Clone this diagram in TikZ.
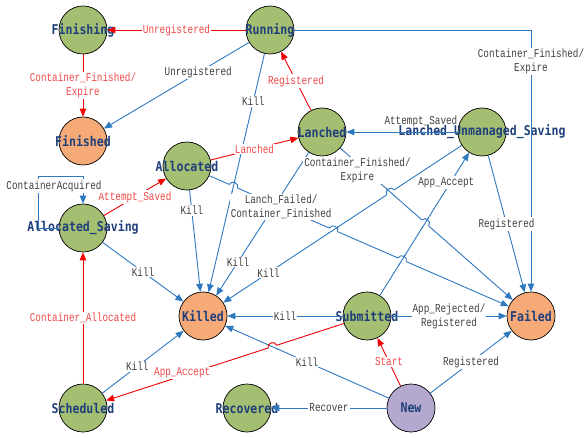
\documentclass[tikz,border=0pt]{standalone}
\usepackage{fontspec}
\newfontfamily\stfont{DejaVu Sans Mono}[FakeStretch=0.86]
\newfontfamily\lbfont{Liberation Mono}[FakeStretch=0.78]
\usetikzlibrary{arrows.meta,calc}
\definecolor{stgreen}{HTML}{A4BE72}
\definecolor{storange}{HTML}{F6AA78}
\definecolor{stpurple}{HTML}{B5A8CF}
\definecolor{stname}{HTML}{1F3F7A}
\definecolor{eblue}{HTML}{2E78C0}
\definecolor{ered}{HTML}{F00000}
\definecolor{lgray}{HTML}{404040}
\definecolor{lred}{HTML}{F04848}
\newcommand\jumpover[6]{%
  \fill[white] (#1) circle (4.6bp);
  \draw[draw=eblue, line width=0.9bp] ($(#1)!6bp!(#5)$) -- ($(#1)!6bp!(#6)$);
  \draw[draw=#4, line width=0.9bp] ($(#1)!4.5bp!(#2)$) to[out=90,in=90,relative,looseness=1.5] ($(#1)!4.5bp!(#3)$);
}
\begin{document}
\begin{tikzpicture}[x=1bp,y=-1bp,
  stnode/.style={circle, draw=black, line width=0.7bp, minimum size=48bp, inner sep=0pt, fill=stgreen, label={[stlabel]center:#1}},
  stlabel/.style={font=\stfont\bfseries\fontsize{13.5}{15}\selectfont, text=stname},
  be/.style={draw=eblue, line width=0.9bp, -{Triangle[length=8bp,width=6.5bp]}},
  re/.style={draw=ered, line width=0.9bp, -{Triangle[length=8bp,width=6.5bp]}},
  lb/.style={fill=white, inner sep=1bp, font=\lbfont\fontsize{12}{14}\selectfont, text=lgray, align=center},
  rl/.style={lb, text=lred}]
\useasboundingbox (0,0) rectangle (588,438);

\node[stnode=Finishing] (fin) at (83,30) {};
\node[stnode=Running] (run) at (270,30) {};
\node[stnode=Finished, fill=storange] (fid) at (83,141) {};
\node[stnode=Allocated] (alo) at (187,166) {};
\node[stnode=Lanched] (lan) at (322,132) {};
\node[stnode=Lanched\_Unmanaged\_Saving] (lus) at (482,132) {};
\node[stnode=Allocated\_Saving] (als) at (83,228) {};
\node[stnode=Killed, fill=storange] (kil) at (203,316) {};
\node[stnode=Submitted] (sub) at (367,316) {};
\node[stnode=Failed, fill=storange] (fai) at (531,316) {};
\node[stnode=Scheduled] (sch) at (83,408) {};
\node[stnode=Recovered] (rec) at (247,408) {};
\node[stnode=New, fill=stpurple] (new) at (411,408) {};

\draw[re] (run) -- node[rl]{Unregistered} (fin);
\draw[re] (fin) -- node[rl]{Container\_Finished/\\Expire} (fid);
\draw[be] (run) -- node[lb, pos=0.35]{Unregistered} (fid);
\draw[be] (run) -| node[lb, pos=0.56]{Container\_Finished/\\Expire} (fai);
\draw[re] (lan) -- node[rl]{Registered} (run);
\draw[be] (run) -- node[lb,pos=0.2]{Kill} (kil);
\draw[re] (alo) -- node[rl]{Lanched} (lan);
\draw[be] (lus) -- node[lb, fill=none, pos=0.33, above=4bp]{Attempt\_Saved} (lan);
\draw[be] (lan) -- node[lb,pos=0.765]{Kill} (kil);
\draw[be] (lan) -- node[lb,pos=0.1,yshift=-7bp]{Container\_Finished/\\Expire} (fai);
\draw[be] (alo) -- node[lb,pos=0.24]{Lanch\_Failed/\\Container\_Finished} (fai);
\draw[be] (alo) -- node[lb,pos=0.2]{Kill} (kil);
\draw[re] (als) -- node[rl]{Attempt\_Saved} (alo);
\draw[be] (als.west) -- ++(-20,0) |- ([yshift=27bp]als.north) -- (als.north);
\node[lb] (ca) at (54,186) {ContainerAcquired};
\draw[be] (als) -- node[lb]{Kill} (kil);
\draw[re] (sch) -- node[rl]{Container\_Allocated} (als);
\draw[be] (sch) -- node[lb,pos=0.43]{Kill} (kil);
\draw[be] (new) -- node[lb]{Kill} (kil);
\draw[re] (sub) -- node[rl,pos=0.68,yshift=3bp]{App\_Accept} (sch);
\draw[be] (sub) -- node[lb]{Kill} (kil);
\draw[be] (sub) -- node[lb]{App\_Rejected/\\Registered} (fai);
\draw[be] (sub) -- node[lb,pos=0.79,xshift=-4bp]{App\_Accept} (lus);
\draw[re] (new) -- node[rl]{Start} (sub);
\draw[be] (new) -- node[lb]{Registered} (fai);
\draw[be] (new) -- node[lb]{Recover} (rec);
\draw[be] (lus) -- node[lb,pos=0.81]{Kill} (kil);
\draw[be] (lus) -- node[lb]{Registered} (fai);

\coordinate (j1) at (intersection of alo--fai and run--kil);
\coordinate (j2) at (intersection of alo--fai and lus--kil);
\coordinate (j3) at (intersection of alo--fai and sub--lus);
\coordinate (j4) at (intersection of lus--kil and lan--fai);
\coordinate (j5) at (intersection of lan--fai and sub--lus);
\coordinate (j6) at (intersection of sub--sch and new--kil);
\jumpover{j1}{alo}{fai}{eblue}{run}{kil}
\jumpover{j2}{alo}{fai}{eblue}{lus}{kil}
\jumpover{j3}{alo}{fai}{eblue}{sub}{lus}
\jumpover{j4}{kil}{lus}{eblue}{lan}{fai}
\jumpover{j5}{lan}{fai}{eblue}{sub}{lus}
\jumpover{j6}{sch}{sub}{ered}{new}{kil}
\end{tikzpicture}
\end{document}
